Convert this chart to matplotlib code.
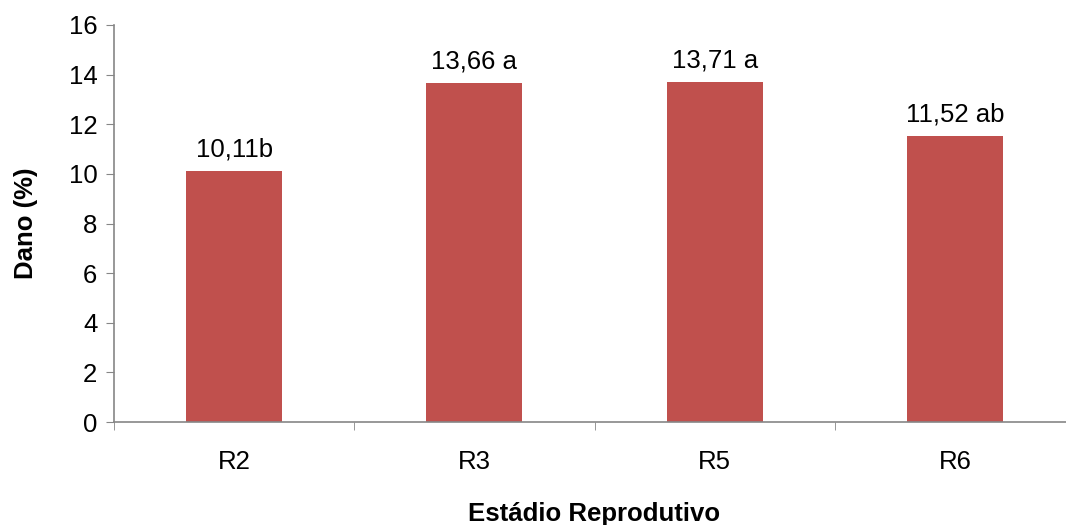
import matplotlib
matplotlib.use("Agg")
import matplotlib.pyplot as plt

estadios = ["R2", "R3", "R5", "R6"]
dano = [10.11, 13.66, 13.71, 11.52]
rotulos = ["10,11b", "13,66 a", "13,71 a", "11,52 ab"]

plt.rcParams['font.family'] = ['Liberation Sans', 'DejaVu Sans']
cinza = "#868686"
fs = 18.5

fig = plt.figure(figsize=(10.66, 5.25), dpi=100)
ax = fig.add_axes([114 / 1066, 103 / 525, 961 / 1066, 397 / 525])

pos = list(range(len(estadios)))
ax.bar(pos, dano, width=0.4, color="#C0504D", zorder=2)

for x, v, t in zip(pos, dano, rotulos):
    ax.annotate(t, (x, v), xytext=(0, 7), textcoords="offset points",
                ha="center", va="bottom", fontsize=fs)

ax.set_xlim(-0.5, len(estadios) - 0.5)
ax.set_ylim(0, 16)
ax.set_yticks(range(0, 17, 2))
ax.set_xticks(pos)
ax.set_xticklabels(estadios)
ax.set_xticks([p - 0.5 for p in pos] + [len(estadios) - 0.5], minor=True)
ax.tick_params(axis="x", which="major", length=0, pad=20, labelsize=fs)
ax.tick_params(axis="x", which="minor", length=6, color=cinza, direction="out")
ax.tick_params(axis="y", length=6, color=cinza, labelsize=fs, pad=6)

for s in ["top", "right"]:
    ax.spines[s].set_visible(False)
for s in ["left", "bottom"]:
    ax.spines[s].set_color(cinza)
    ax.spines[s].set_linewidth(1.2)

ax.set_ylabel("Dano (%)", fontsize=fs, fontweight="bold", labelpad=22)
ax.set_xlabel("Estádio Reprodutivo", fontsize=fs, fontweight="bold", labelpad=20)

fig.savefig("out.png", dpi=100)
